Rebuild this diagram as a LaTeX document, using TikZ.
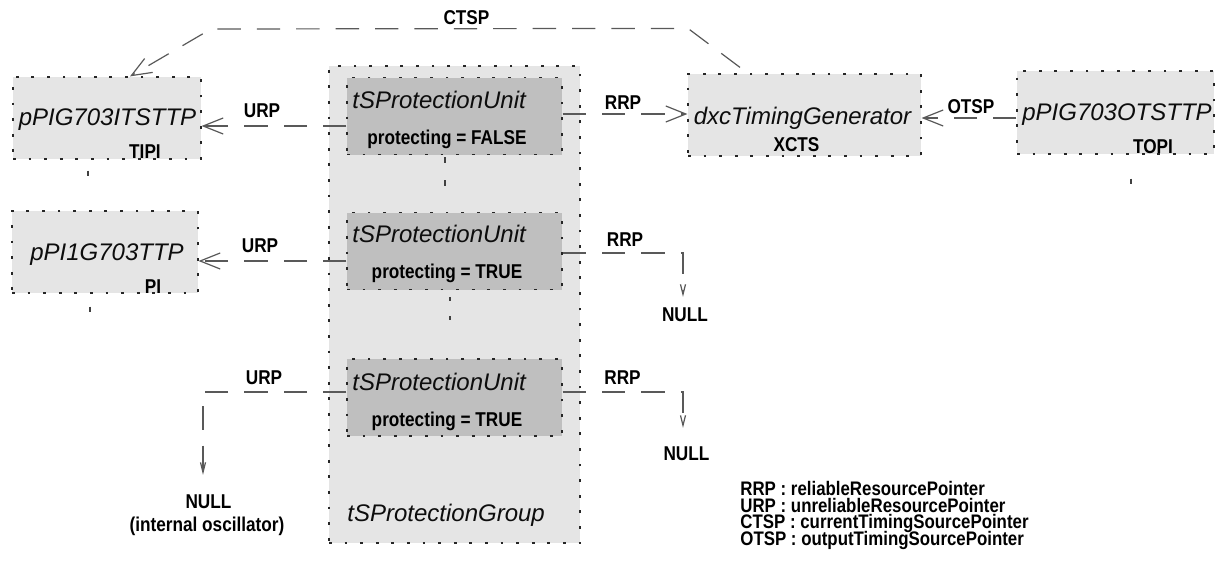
\documentclass[tikz,border=0pt]{standalone}
\usepackage{fontspec}
\setmainfont{Liberation Sans}
\newfontfamily\narrowfont[FakeStretch=0.86]{Liberation Sans}
\usetikzlibrary{arrows.meta}

\definecolor{boxgray}{gray}{0.9}
\definecolor{unitgray}{gray}{0.75}
\definecolor{linegray}{gray}{0.35}

\def\tightlines{\lineskiplimit=-20pt\relax\lineskip=0pt\relax}

\tikzset{
  obj/.style={draw=black!85, fill=boxgray, line width=0.6pt, dash pattern=on 1.4pt off 6.4pt, inner sep=0pt},
  unitbox/.style={obj, fill=unitgray, minimum width=107.5pt, minimum height=38.5pt},
  objname/.style={font=\fontsize{12}{14}\selectfont\itshape, text=black!95, inner sep=0pt, anchor=base},
  lbl/.style={font=\narrowfont\bfseries\fontsize{10}{12}\selectfont, text=black, inner sep=0pt, anchor=base},
  ptr/.style={draw=linegray, line width=0.6pt, dash pattern=on 11.7pt off 8pt},
  nullptr/.style={ptr, -{Straight Barb[length=5pt,width=2.5pt]}},
  tick/.style={draw=black!75, line width=0.6pt},
}

\def\colX{454.5}

\begin{document}
\begin{tikzpicture}[x=0.5pt, y=-0.5pt, >={Straight Barb[length=10pt,width=8pt]}]
  \useasboundingbox (0,0) rectangle (1227,563);

  \node[obj, minimum width=125.5pt, minimum height=238.5pt] (grp) at (\colX,304.5) {};
  \node[objname, anchor=base west] (grp-t) at (347,521) {tSProtectionGroup};

  \foreach \n/\y/\b/\v in {u1/116/108/FALSE, u2/251/242/TRUE, u3/397.5/390/TRUE} {
      \node[unitbox] (\n) at (\colX,\y) {};
      \node[objname, anchor=base west] (\n-t) at (352,\b) {tSProtectionUnit};
      \node[lbl] (\n-p) at (447,\b+36) {protecting = \v};
  }

  \node[obj, minimum width=94pt, minimum height=41pt] (its) at (107,118) {};
  \node[objname] (its-t) at (107.5,125) {pPIG703ITSTTP};
  \node[lbl] (its-l) at (145,158) {TIPI};

  \node[obj, minimum width=93pt, minimum height=41pt] (pi) at (105,252) {};
  \node[objname] (pi-t) at (107,260) {pPI1G703TTP};
  \node[lbl] (pi-l) at (153,293) {PI};

  \node[obj, minimum width=116.5pt, minimum height=41pt] (xcts) at (804.5,115) {};
  \node[objname] (xcts-t) at (802.5,124) {dxcTimingGenerator};
  \node[lbl] (xcts-l) at (796.5,151) {XCTS};

  \node[obj, minimum width=98.5pt, minimum height=41.5pt] (topi) at (1115.5,112.5) {};
  \node[objname] (topi-t) at (1117,120) {pPIG703OTSTTP};
  \node[lbl] (topi-l) at (1153,153) {TOPI};

  \node[lbl] (null1) at (685,321) {NULL};
  \node[lbl] (null2) at (686.5,460) {NULL};
  \node[lbl] (null3) at (208.5,508) {NULL};
  \node[lbl] (osc) at (207,531) {(internal oscillator)};

  \coordinate (ctspbend) at (211,29);
  \draw[ptr, ->] ([xshift=-32.25pt, yshift=3pt]xcts.north) -- ++(-52,-39) -- (ctspbend) -- ([xshift=11.5pt]its.north);
  \node[lbl] (ctsp) at (466.5,24) {CTSP};

  \draw[ptr, ->] ([yshift=-5pt]u1.west) -- ([yshift=-5pt]u1.west -| its.east);
  \node[lbl] (urp1) at (262,117) {URP};
  \draw[ptr, ->] ([yshift=1pt]u1.east) -- ([yshift=1pt]u1.east -| xcts.west);
  \node[lbl] (rrp1) at (623,109) {RRP};
  \draw[ptr, ->] ([yshift=-2.75pt]topi.west) -- ([yshift=-2.75pt]topi.west -| xcts.east);
  \node[lbl] (otsp) at (971,113) {OTSP};

  \draw[ptr, ->] ([yshift=-5pt]u2.west) -- ([yshift=-5pt]u2.west -| pi.east);
  \node[lbl] (urp2) at (260,252) {URP};
  \draw[nullptr] ([yshift=-1pt]u2.east) -| ([xshift=-1pt, yshift=5pt]null1.north);
  \node[lbl] (rrp2) at (625,246) {RRP};

  \draw[nullptr] ([yshift=2.75pt]u3.west) -| ([xshift=-2.75pt, yshift=9.5pt]null3.north);
  \node[lbl] (urp3) at (264,384) {URP};
  \draw[nullptr] ([yshift=2.75pt]u3.east) -| ([xshift=-1.75pt, yshift=9pt]null2.north);
  \node[lbl] (rrp3) at (622.5,384) {RRP};

  \draw[tick] ([xshift=-9.5pt, yshift=-5.5pt]its.south) -- ++(0,5);
  \draw[tick] ([xshift=-7.5pt, yshift=-6.5pt]pi.south) -- ++(0,5);
  \draw[tick] ([xshift=7.75pt, yshift=-12pt]topi.south) -- ++(0,5);
  \draw[tick, dash pattern=on 3pt off 8.5pt] ([xshift=-4.75pt, yshift=-1pt]u1.south) -- ++(0,32);
  \draw[tick, dash pattern=on 2pt off 7.5pt] ([xshift=-2.25pt, yshift=-3.5pt]u2.south) -- ++(0,24);

  \node[lbl, anchor=north west, align=left,
        font=\narrowfont\bfseries\fontsize{9.8}{8.3}\selectfont\tightlines] (legend) at (740,481)
      {RRP : reliableResourcePointer\\ URP : unreliableResourcePointer\\
       CTSP : currentTimingSourcePointer\\ OTSP : outputTimingSourcePointer};
\end{tikzpicture}
\end{document}
